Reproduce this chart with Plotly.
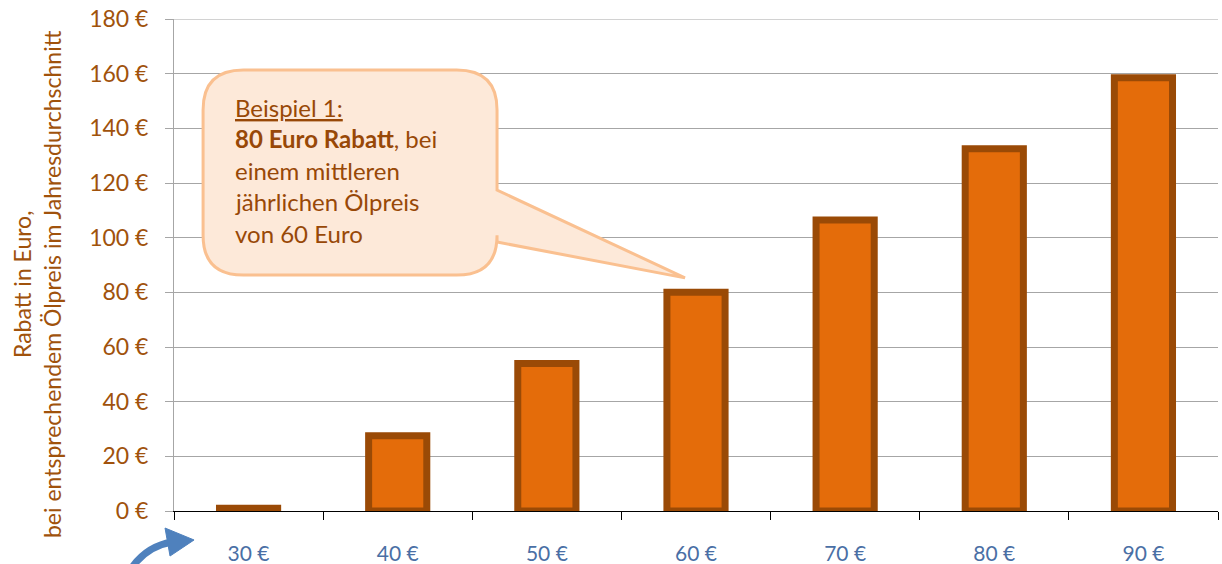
import plotly.graph_objects as go

categories = ["30 €", "40 €", "50 €", "60 €", "70 €", "80 €", "90 €"]
rabatt = [1, 27.5, 54, 80, 106.5, 132.5, 158.5]
y_tickvals = [0, 20, 40, 60, 80, 100, 120, 140, 160, 180]
y_ticktext = ["0 €", "20 €", "40 €", "60 €", "80 €", "100 €", "120 €", "140 €", "160 €", "180 €"]
callout_lines = [
    "<u>Beispiel 1:</u>",
    "<b>80 Euro Rabatt</b>, bei",
    "einem mittleren",
    "jährlichen Ölpreis",
    "von 60 Euro",
]
y_title = "Rabatt in Euro,<br>bei entsprechendem Ölpreis im Jahresdurchschnitt"

BROWN = "#984807"
FILL = "#E46C0A"
FONT = "Lato"
GRID = "#A6A6A6"

fig = go.Figure()
fig.add_trace(go.Bar(
    x=categories, y=rabatt, width=0.39,
    marker=dict(color=FILL, line=dict(color="#9A4A06", width=7)),
    hoverinfo="x+y",
))

# top gridline (plotly omits the grid line lying on the plot edge)
fig.add_shape(type="line", xref="paper", yref="y", x0=0, x1=1,
              y0=y_tickvals[-1], y1=y_tickvals[-1], line=dict(color=GRID, width=1), layer="below")

# callout geometry (data coords: x = category index, y = value)
x0, x1 = -0.305, 1.666
y0, y1 = 86.3, 161.3
rx, ry = 0.27, 14.6
tail_top, tail_bot = 117.4, 98.4
tip_x, tip_y = 2.926, 85.3
path = (
    f"M {x0+rx},{y1} L {x1-rx},{y1} Q {x1},{y1} {x1},{y1-ry} "
    f"L {x1},{tail_top} L {tip_x},{tip_y} L {x1},{tail_bot} "
    f"L {x1},{y0+ry} Q {x1},{y0} {x1-rx},{y0} L {x0+rx},{y0} "
    f"Q {x0},{y0} {x0},{y0+ry} L {x0},{y1-ry} Q {x0},{y1} {x0+rx},{y1} Z"
)
fig.add_shape(type="path", xref="x", yref="y", path=path,
              fillcolor="#FDE9D9", line=dict(color="#FAC090", width=3), layer="above")

line_y = [147.8, 136.3, 124.7, 113.2, 101.7]
for txt, yy in zip(callout_lines, line_y):
    fig.add_annotation(x=-0.104, y=yy, xref="x", yref="y", text=txt, showarrow=False,
                       xanchor="left", yanchor="middle",
                       font=dict(family=FONT, size=24, color=BROWN))

# y axis title
fig.add_annotation(x=-0.1312, y=0.4614, xref="paper", yref="paper", text=y_title,
                   showarrow=False, textangle=-90, xanchor="center", yanchor="middle",
                   font=dict(family=FONT, size=23, color="#A0520C"))

# blue curved arrow at bottom left
fig.add_shape(type="path", xref="paper", yref="paper",
              path="M -0.0393,-0.1118 Q -0.0249,-0.0711 -0.0019,-0.0630",
              line=dict(color="#4F81BD", width=7))
fig.add_shape(type="path", xref="paper", yref="paper",
              path="M -0.0086,-0.0346 L 0.0192,-0.0589 L -0.0038,-0.0915 Z",
              fillcolor="#4F81BD", line=dict(color="#4F81BD", width=1))

fig.update_layout(
    width=1222, height=564,
    margin=dict(l=174, r=4, t=19, b=53),
    paper_bgcolor="white", plot_bgcolor="white",
    showlegend=False, bargap=0.6,
    font=dict(family=FONT),
    xaxis=dict(
        type="category", range=[-0.5, 6.5], automargin=False,
        showline=True, linecolor="#000000", linewidth=1,
        ticks="outside", tickson="boundaries", ticklen=8, tickcolor="#000000",
        tickfont=dict(family=FONT, size=21, color="#4A6FA5"),
        ticklabelstandoff=24, showgrid=False,
    ),
    yaxis=dict(
        range=[0, 180], tickvals=y_tickvals, ticktext=y_ticktext, automargin=False,
        showgrid=True, gridcolor=GRID, gridwidth=1,
        showline=True, linecolor=GRID, linewidth=1,
        ticks="outside", ticklen=8, tickcolor=GRID,
        tickfont=dict(family=FONT, size=23, color="#A0520C"),
        ticklabelstandoff=12, zeroline=False, ticklabeloverflow="allow",
    ),
)

fig.write_html(
    "out.html",
    config={"displayModeBar": False},
    post_script="document.body.style.margin='0px';document.body.style.overflow='hidden';",
)
